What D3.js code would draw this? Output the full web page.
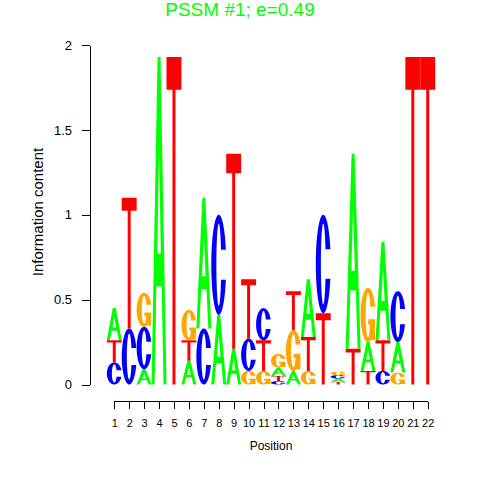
<!DOCTYPE html>
<html>
<head>
<meta charset="utf-8">
<script src="https://cdn.jsdelivr.net/npm/d3@7"></script>
<style>
  body { margin: 0; background: #fff; }
  svg { display: block; font-family: "Liberation Sans", Arial, sans-serif; }
</style>
</head>
<body>
<div id="chart"></div>
<script>
const positions = [1, 2, 3, 4, 5, 6, 7, 8, 9, 10, 11, 12, 13, 14, 15, 16, 17, 18, 19, 20, 21, 22];
const heightA = [0.19, 0, 0.09, 1.93, 0, 0.14, 0.77, 0.41, 0.21, 0, 0, 0.05, 0.08, 0.34, 0, 0.02, 1.15, 0.17, 0.58, 0.18, 0, 0];
const heightC = [0.13, 0.33, 0.25, 0, 0, 0, 0.33, 0.59, 0, 0.19, 0.19, 0.02, 0, 0, 0.58, 0.02, 0, 0, 0.08, 0.30, 0, 0];
const heightG = [0, 0, 0.20, 0, 0, 0.18, 0, 0, 0, 0.08, 0.08, 0.08, 0.24, 0.08, 0, 0.02, 0, 0.32, 0, 0.07, 0, 0];
const heightT = [0.13, 0.77, 0, 0, 1.93, 0.12, 0, 0, 1.15, 0.35, 0.18, 0.03, 0.23, 0.20, 0.42, 0.015, 0.21, 0.08, 0.18, 0, 1.93, 1.93];
// bottom to top
const stackOrder = ["CTA", "CT", "ACG", "A", "T", "ATG", "CA", "AC", "AT", "GCT", "GTC", "CTAG", "AGT", "GTA", "TC", "TACG", "TA", "TAG", "CTA", "GAC", "T", "T"];
const yTicks = [0, 0.5, 1, 1.5, 2];

const letterColors = {A: "#00ff00", C: "#0000ff", G: "#ffa500", T: "#ff0000"};

// ring with an opening on the right, in a unit box (y up)
function openRing(cutLow, cutHigh) {
    const rxIn = 0.16, ryIn = 0.41;
    const tLow = Math.asin((cutLow - 0.5) / 0.5), tHigh = Math.asin((cutHigh - 0.5) / 0.5);
    const sLow = Math.asin((cutLow - 0.5) / ryIn), sHigh = Math.asin((cutHigh - 0.5) / ryIn);
    const n = 80;
    // outer: clockwise from the lower arm, round the left, to the upper arm
    const outer = d3.range(n + 1).map(i => {
        const t = tLow - i * (2 * Math.PI - (tHigh - tLow)) / n;
        return [0.5 + 0.5 * Math.cos(t), 0.5 + 0.5 * Math.sin(t)];
    });
    const inner = d3.range(n + 1).map(i => {
        const s = sHigh - 2 * Math.PI + i * (2 * Math.PI - (sHigh - sLow)) / n;
        return [0.5 + rxIn * Math.cos(s), 0.5 + ryIn * Math.sin(s)];
    });
    return outer.concat(inner);
}

const glyphs = {
    A: [[
        [[0, 0], [0.4, 1], [0.6, 1], [1, 0], [0.8, 0], [0.68, 0.3], [0.32, 0.3], [0.2, 0]],
        [[0.38, 0.4], [0.5, 0.72], [0.62, 0.4]]
    ]],
    T: [[
        [[0, 1], [1, 1], [1, 0.9], [0.6, 0.9], [0.6, 0], [0.4, 0], [0.4, 0.9], [0, 0.9]]
    ]],
    C: [[openRing(0.35, 0.65)]],
    G: [
        [openRing(0.35, 0.65)],
        [[[0.97, 0.42], [0.52, 0.42], [0.52, 0.32], [0.72, 0.32], [0.72, 0.04], [0.97, 0.04]]]
    ]
};

class LogoChart {
    constructor(_config) {
        this.config = {
            parentElement: _config.parentElement,
            containerWidth: _config.containerWidth || 480,
            containerHeight: _config.containerHeight || 480
        };
        this.initVis();
    }

    initVis() {
        let vis = this;

        vis.svg = d3.select(vis.config.parentElement)
            .append("svg")
                .attr("width", vis.config.containerWidth)
                .attr("height", vis.config.containerHeight);

        vis.xScale = d3.scaleLinear()
            .domain([0.5, 22.5])
            .range([106.8, 435.2]);

        vis.yScale = d3.scaleLinear()
            .domain([0, 2])
            .range([384.5, 45]);

        vis.chart = vis.svg.append("g");

        vis.yAxis = d3.axisLeft(vis.yScale)
            .tickValues(yTicks)
            .tickFormat(d => d)
            .tickSize(8)
            .tickSizeOuter(0)
            .tickPadding(10);

        vis.xAxis = d3.axisBottom(vis.xScale)
            .tickValues(positions)
            .tickFormat(d => d)
            .tickSize(7)
            .tickSizeOuter(0)
            .tickPadding(11);

        vis.yAxisG = vis.svg.append("g")
            .attr("class", "axis y-axis")
            .attr("transform", "translate(90,0)");

        vis.xAxisG = vis.svg.append("g")
            .attr("class", "axis x-axis")
            .attr("transform", "translate(0,401.7)");

        vis.svg.append("text")
            .attr("x", 240)
            .attr("y", 15.5)
            .attr("text-anchor", "middle")
            .attr("font-size", 19)
            .attr("fill", "#00ff00")
            .text("PSSM #1; e=0.49");

        vis.svg.append("text")
            .attr("transform", "translate(43,212) rotate(-90)")
            .attr("text-anchor", "middle")
            .attr("font-size", 15)
            .text("Information content");

        vis.svg.append("text")
            .attr("x", 271)
            .attr("y", 450)
            .attr("text-anchor", "middle")
            .attr("font-size", 12)
            .text("Position");

        vis.updateVis();
    }

    updateVis() {
        let vis = this;
        const heights = {A: heightA, C: heightC, G: heightG, T: heightT};

        // stack the letters of every column
        vis.letters = [];
        positions.forEach((pos, i) => {
            let base = 0;
            stackOrder[i].split("").forEach(letter => {
                const h = heights[letter][i];
                if (h > 0) vis.letters.push({pos: pos, letter: letter, y0: base, y1: base + h});
                base += h;
            });
        });

        vis.renderVis();
    }

    renderVis() {
        let vis = this;

        const shapePath = (d, shape) => {
            const x0 = vis.xScale(d.pos - 0.5), x1 = vis.xScale(d.pos + 0.5);
            const px = u => x0 + u * (x1 - x0);
            const py = v => vis.yScale(d.y0 + v * (d.y1 - d.y0));
            return shape.map(ring => "M" + ring.map(p => `${px(p[0])},${py(p[1])}`).join("L") + "Z").join("");
        };

        const letterG = vis.chart.selectAll(".letter")
            .data(vis.letters)
            .join("g")
                .attr("class", "letter");

        letterG.selectAll("path")
            .data(d => glyphs[d.letter].map(shape => ({d: d, shape: shape})))
            .join("path")
                .attr("d", s => shapePath(s.d, s.shape))
                .attr("fill", s => letterColors[s.d.letter])
                .attr("fill-rule", "evenodd");

        vis.yAxisG.call(vis.yAxis);
        vis.xAxisG.call(vis.xAxis);

        vis.xAxisG.select(".domain")
            .attr("d", `M${vis.xScale(1)},0H${vis.xScale(22)}`);

        vis.svg.selectAll(".axis path, .axis line")
            .attr("stroke", "#000")
            .attr("shape-rendering", "crispEdges");
        vis.yAxisG.selectAll("text").attr("font-size", 13).attr("fill", "#000");
        vis.xAxisG.selectAll("text").attr("font-size", 11).attr("fill", "#000");
        vis.svg.selectAll(".axis").attr("font-family", null);
    }
}

new LogoChart({parentElement: "#chart"});
</script>
</body>
</html>
